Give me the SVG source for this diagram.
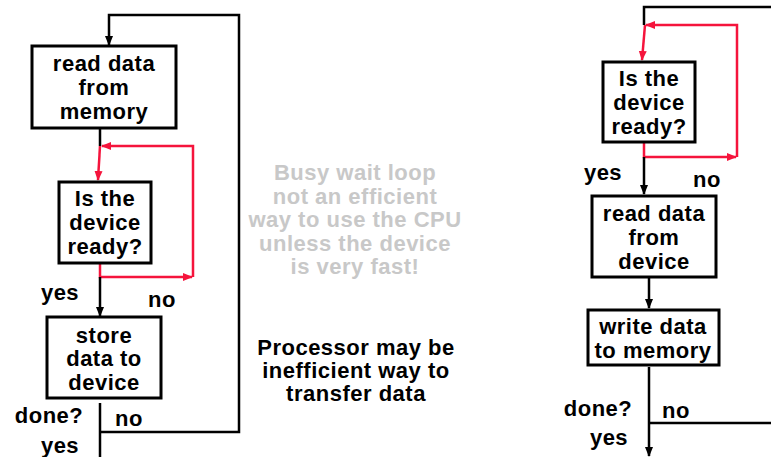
<svg xmlns="http://www.w3.org/2000/svg" width="771" height="457" viewBox="0 0 771 457">
<style>
.box{fill:#fff;stroke:#000;stroke-width:3}
.t{font-family:"Liberation Sans",Arial,sans-serif;font-weight:bold;font-size:22px;letter-spacing:0.5px;text-anchor:middle;fill:#000}
.g{fill:#c8c8c8}
.k{fill:none;stroke:#000;stroke-width:2.5}
.r{fill:none;stroke:#f5143c;stroke-width:2.5}
</style>
<defs>
<marker id="ak" markerUnits="userSpaceOnUse" markerWidth="10" markerHeight="10" viewBox="0 0 10 10" refX="9" refY="5" orient="auto"><path d="M0,1 L10,5 L0,9 Z" fill="#000"/></marker>
<marker id="ar" markerUnits="userSpaceOnUse" markerWidth="10" markerHeight="10" viewBox="0 0 10 10" refX="9" refY="5" orient="auto"><path d="M0,1 L10,5 L0,9 Z" fill="#f5143c"/></marker>
</defs>
<g id="connectors">
<path class="k" d="M100,432 H239 V15 H109 V45" marker-end="url(#ak)"/>
<path class="k" d="M100,128 V146"/>
<path class="r" d="M100,263 V277 H192" marker-end="url(#ar)"/>
<path class="r" d="M193,277 V146 H102" marker-end="url(#ar)"/>
<path class="r" d="M100,146 L98,180" marker-end="url(#ar)"/>
<path class="k" d="M100,277 V316" marker-end="url(#ak)"/>
<path class="k" d="M100,403 V457"/>
<path class="k" d="M771,7 H644 V25"/>
<path class="r" d="M644,142 V157 H736" marker-end="url(#ar)"/>
<path class="r" d="M737,157 V25 H646" marker-end="url(#ar)"/>
<path class="r" d="M645,25 L642,60" marker-end="url(#ar)"/>
<path class="k" d="M644,157 V194" marker-end="url(#ak)"/>
<path class="k" d="M649,277 V308" marker-end="url(#ak)"/>
<path class="k" d="M649,367 V456" marker-end="url(#ak)"/>
<path class="k" d="M649,423 H771"/>
</g>
<g id="read-memory">
<rect class="box" x="32" y="46" width="144" height="82"/>
<text class="t" x="104" y="71">read data</text>
<text class="t" x="104" y="95">from</text>
<text class="t" x="104" y="119">memory</text>
</g>
<g id="ready-left">
<rect class="box" x="59" y="182" width="92" height="81"/>
<text class="t" x="105" y="206">Is the</text>
<text class="t" x="105" y="230">device</text>
<text class="t" x="105" y="254">ready?</text>
</g>
<g id="store-device">
<rect class="box" x="47" y="317" width="114" height="81"/>
<text class="t" x="104" y="343">store</text>
<text class="t" x="104" y="366">data to</text>
<text class="t" x="104" y="390">device</text>
</g>
<g id="labels-left">
<text class="t" x="60" y="300">yes</text>
<text class="t" x="162" y="307">no</text>
<text class="t" x="49" y="423">done?</text>
<text class="t" x="129" y="426">no</text>
<text class="t" x="60" y="453">yes</text>
</g>
<g id="ready-right">
<rect class="box" x="603" y="62" width="92" height="80"/>
<text class="t" x="649" y="86">Is the</text>
<text class="t" x="649" y="110">device</text>
<text class="t" x="649" y="134">ready?</text>
</g>
<g id="read-device">
<rect class="box" x="592" y="196" width="124" height="81"/>
<text class="t" x="654" y="221">read data</text>
<text class="t" x="654" y="245">from</text>
<text class="t" x="654" y="269">device</text>
</g>
<g id="write-memory">
<rect class="box" x="588" y="310" width="131" height="55"/>
<text class="t" x="653" y="334">write data</text>
<text class="t" x="653" y="358">to memory</text>
</g>
<g id="labels-right">
<text class="t" x="603" y="180">yes</text>
<text class="t" x="707" y="187">no</text>
<text class="t" x="598" y="416">done?</text>
<text class="t" x="676" y="418">no</text>
<text class="t" x="609" y="445">yes</text>
</g>
<g id="note-busy">
<text class="t g" x="355" y="180">Busy wait loop</text>
<text class="t g" x="355" y="204">not an efficient</text>
<text class="t g" x="355" y="227">way to use the CPU</text>
<text class="t g" x="355" y="251">unless the device</text>
<text class="t g" x="355" y="274">is very fast!</text>
</g>
<g id="note-processor">
<text class="t" x="356" y="355">Processor may be</text>
<text class="t" x="356" y="378">inefficient way to</text>
<text class="t" x="356" y="401">transfer data</text>
</g>
</svg>
